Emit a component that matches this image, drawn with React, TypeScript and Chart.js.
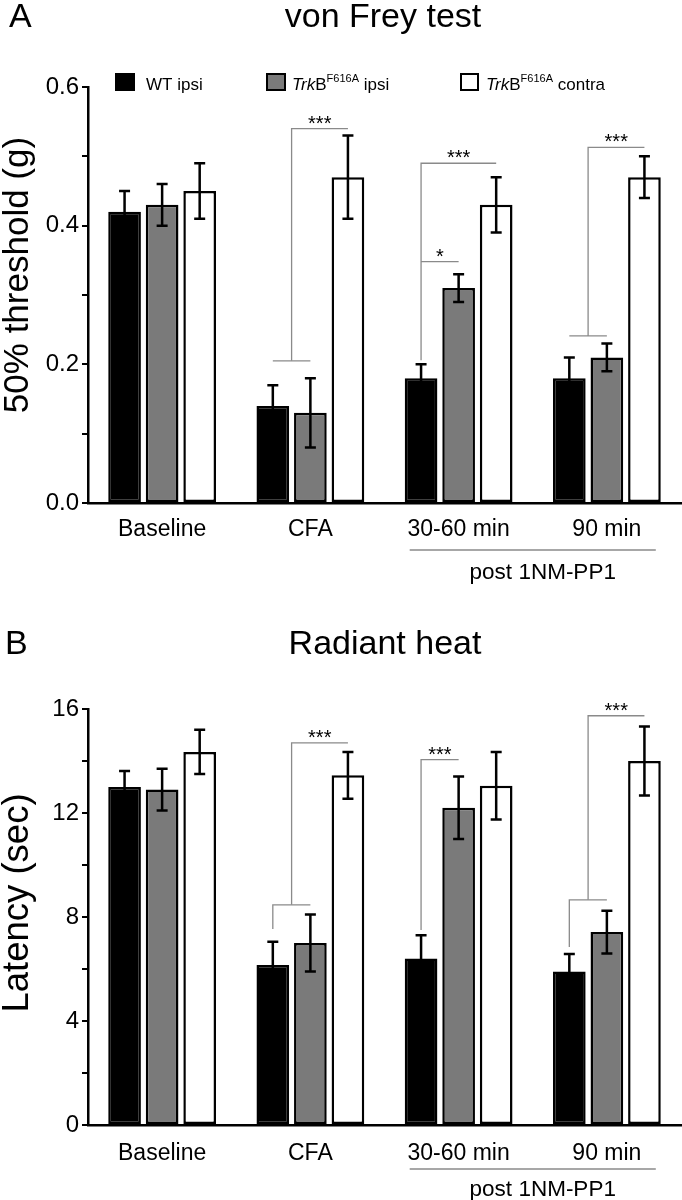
import React, { useEffect, useRef } from 'react';
import { Chart, registerables } from 'chart.js';

Chart.register(...registerables);

const FONT = '"Liberation Sans", Arial, Helvetica, sans-serif';

// ---------- data ----------
const categories = ['Baseline', 'CFA', '30-60 min', '90 min'];
const seriesNames = ['WT ipsi', 'TrkB F616A ipsi', 'TrkB F616A contra'];
const barColors = ['#000000', '#7a7a7a', '#ffffff'];

// Panel A: von Frey test, 50% threshold (g)
const vonFreyWT = [0.42, 0.14, 0.18, 0.18];
const vonFreyWTErr = [0.03, 0.03, 0.02, 0.03];
const vonFreyTrkIpsi = [0.43, 0.13, 0.31, 0.21];
const vonFreyTrkIpsiErr = [0.03, 0.05, 0.02, 0.02];
const vonFreyTrkContra = [0.45, 0.47, 0.43, 0.47];
const vonFreyTrkContraErr = [0.04, 0.06, 0.04, 0.03];
const vonFreyTickLabels = ['0.0', '0.2', '0.4', '0.6'];

// Panel B: Radiant heat, latency (sec)
const heatWT = [13.0, 6.15, 6.4, 5.9];
const heatWTErr = [0.62, 0.9, 0.9, 0.68];
const heatTrkIpsi = [12.9, 7.0, 12.2, 7.42];
const heatTrkIpsiErr = [0.8, 1.1, 1.2, 0.82];
const heatTrkContra = [14.35, 13.45, 13.05, 14.0];
const heatTrkContraErr = [0.85, 0.9, 1.3, 1.33];
const heatTickLabels = ['0', '4', '8', '12', '16'];

// significance brackets: points are [category, bar slot, value]
type P = [number, number, number];
type Bracket = { path: P[]; label?: string; at?: P };
const vonFreyBrackets: Bracket[] = [
  { path: [[1, 0, 0.205], [1, 1, 0.205]] },
  { path: [[1, 0.5, 0.205], [1, 0.5, 0.54], [1, 2, 0.54]], label: '***', at: [1, 1.25, 0.54] },
  { path: [[2, 0, 0.206], [2, 0, 0.49], [2, 2, 0.49]], label: '***', at: [2, 1, 0.49] },
  { path: [[2, 0, 0.348], [2, 1, 0.348]], label: '*', at: [2, 0.5, 0.348] },
  { path: [[3, 0, 0.241], [3, 1, 0.241]] },
  { path: [[3, 0.5, 0.241], [3, 0.5, 0.513], [3, 2, 0.513]], label: '***', at: [3, 1.25, 0.513] },
];
const heatBrackets: Bracket[] = [
  { path: [[1, 0, 7.54], [1, 0, 8.47], [1, 1, 8.47]] },
  { path: [[1, 0.5, 8.47], [1, 0.5, 14.7], [1, 2, 14.7]], label: '***', at: [1, 1.25, 14.7] },
  { path: [[2, 0, 7.5], [2, 0, 14.05], [2, 1, 14.05]], label: '***', at: [2, 0.5, 14.05] },
  { path: [[3, 0, 6.85], [3, 0, 8.66], [3, 1, 8.66]] },
  { path: [[3, 0.5, 8.66], [3, 0.5, 15.74], [3, 2, 15.74]], label: '***', at: [3, 1.25, 15.74] },
];

type PanelCfg = {
  letter: string;
  letterX: number;
  title: string;
  titleX: number;
  titleBaseline: number;
  yTitle: string;
  yTitleSize: number;
  yTitleY: number;
  tickLabels: string[];
  max: number;
  step: number;
  series: number[][];
  errors: number[][];
  brackets: Bracket[];
  legend: boolean;
  padTop: number;
  xHeight: number;
  xPad: number;
  postLine: number;
  postText: number;
};

function drawLegend(ctx: CanvasRenderingContext2D) {
  const y0 = 73;
  const boxes = [
    { x: 115, w: 20, textX: 146 },
    { x: 266, w: 20, textX: 292 },
    { x: 460, w: 19, textX: 486 },
  ];
  const base = 90;
  boxes.forEach((b, i) => {
    ctx.fillStyle = barColors[i];
    ctx.fillRect(b.x, y0, b.w, 18);
    ctx.strokeStyle = '#000';
    ctx.lineWidth = 2;
    ctx.strokeRect(b.x + 1, y0 + 1, b.w - 2, 16);
  });
  ctx.fillStyle = '#000';
  ctx.textAlign = 'left';
  ctx.textBaseline = 'alphabetic';
  ctx.font = `17px ${FONT}`;
  ctx.fillText(seriesNames[0], boxes[0].textX, base);
  const parts = (x: number, suffix: string) => {
    ctx.font = `italic 17px ${FONT}`;
    ctx.fillText('Trk', x, base);
    x += ctx.measureText('Trk').width;
    ctx.font = `17px ${FONT}`;
    ctx.fillText('B', x, base);
    x += ctx.measureText('B').width;
    ctx.font = `11px ${FONT}`;
    ctx.fillText('F616A', x, base - 8);
    x += ctx.measureText('F616A').width;
    ctx.font = `17px ${FONT}`;
    ctx.fillText(suffix, x, base);
  };
  parts(boxes[1].textX, ' ipsi');
  parts(boxes[2].textX, ' contra');
}

function makePanel(canvas: HTMLCanvasElement, cfg: PanelCfg) {
  const barX = (chart: any, cat: number, slot: number) => {
    const lo = Math.floor(slot);
    const hi = Math.ceil(slot);
    const xl = chart.getDatasetMeta(lo).data[cat].x;
    const xh = chart.getDatasetMeta(hi).data[cat].x;
    return xl + (xh - xl) * (slot - lo);
  };

  const overlay = {
    id: 'overlay',
    afterDatasetsDraw(chart: any) {
      const ctx = chart.ctx as CanvasRenderingContext2D;
      const ys = chart.scales.y;
      ctx.save();
      ctx.strokeStyle = '#000';
      ctx.lineWidth = 2.5;
      cfg.series.forEach((vals, d) => {
        const meta = chart.getDatasetMeta(d);
        vals.forEach((v, i) => {
          const e = cfg.errors[d][i];
          const x = meta.data[i].x;
          const yt = ys.getPixelForValue(v + e);
          const yb = ys.getPixelForValue(v - e);
          ctx.beginPath();
          ctx.moveTo(x, yt);
          ctx.lineTo(x, yb);
          ctx.moveTo(x - 5.5, yt);
          ctx.lineTo(x + 5.5, yt);
          ctx.moveTo(x - 5.5, yb);
          ctx.lineTo(x + 5.5, yb);
          ctx.stroke();
        });
      });
      ctx.restore();
    },
    afterDraw(chart: any) {
      const ctx = chart.ctx as CanvasRenderingContext2D;
      const ys = chart.scales.y;
      const xs = chart.scales.x;
      const area = chart.chartArea;
      ctx.save();
      // brackets
      ctx.strokeStyle = '#8a8a8a';
      ctx.lineWidth = 1.3;
      cfg.brackets.forEach((b) => {
        ctx.beginPath();
        b.path.forEach((p, k) => {
          const x = barX(chart, p[0], p[1]);
          const y = ys.getPixelForValue(p[2]);
          if (k === 0) ctx.moveTo(x, y);
          else ctx.lineTo(x, y);
        });
        ctx.stroke();
        if (b.label && b.at) {
          ctx.fillStyle = '#000';
          ctx.font = `20px ${FONT}`;
          ctx.textAlign = 'center';
          ctx.textBaseline = 'alphabetic';
          ctx.fillText(b.label, barX(chart, b.at[0], b.at[1]), ys.getPixelForValue(b.at[2]) + 1);
        }
      });
      // post 1NM-PP1 line and text
      const c2 = xs.getPixelForValue(2);
      const c3 = xs.getPixelForValue(3);
      const w = c3 - c2;
      ctx.strokeStyle = '#8a8a8a';
      ctx.lineWidth = 1.3;
      ctx.beginPath();
      ctx.moveTo(c2 - 0.33 * w, area.bottom + cfg.postLine);
      ctx.lineTo(c3 + 0.33 * w, area.bottom + cfg.postLine);
      ctx.stroke();
      ctx.fillStyle = '#000';
      ctx.font = `22.5px ${FONT}`;
      ctx.textAlign = 'center';
      ctx.textBaseline = 'alphabetic';
      ctx.fillText('post 1NM-PP1', (c2 + c3) / 2 + 10, area.bottom + cfg.postText);
      // panel letter and title
      ctx.font = `34px ${FONT}`;
      ctx.textAlign = 'left';
      ctx.fillText(cfg.letter, cfg.letterX, cfg.titleBaseline);
      ctx.textAlign = 'center';
      ctx.fillText(cfg.title, cfg.titleX, cfg.titleBaseline);
      // y axis title
      ctx.save();
      ctx.translate(18, cfg.yTitleY);
      ctx.rotate(-Math.PI / 2);
      ctx.font = `${cfg.yTitleSize}px ${FONT}`;
      ctx.textAlign = 'center';
      ctx.textBaseline = 'middle';
      ctx.fillText(cfg.yTitle, 0, 0);
      ctx.restore();
      if (cfg.legend) drawLegend(ctx);
      ctx.restore();
    },
  };

  return new Chart(canvas, {
    type: 'bar',
    data: {
      labels: categories,
      datasets: cfg.series.map((s, i) => ({
        label: seriesNames[i],
        data: s,
        backgroundColor: barColors[i],
        borderColor: '#000000',
        borderWidth: 2.5,
        borderSkipped: false,
        categoryPercentage: 0.76,
        barPercentage: 0.87,
      })),
    },
    options: {
      responsive: false,
      maintainAspectRatio: false,
      animation: false,
      devicePixelRatio: 1,
      layout: { padding: { top: cfg.padTop, right: 1, left: 0, bottom: 0 } },
      plugins: {
        legend: { display: false },
        title: { display: false },
        tooltip: { enabled: false },
      },
      scales: {
        x: {
          grid: { display: false, drawTicks: false },
          border: { display: true, color: '#000', width: 2.5 },
          ticks: {
            color: '#000',
            font: { family: FONT, size: 23 },
            padding: cfg.xPad,
            maxRotation: 0,
            autoSkip: false,
          },
          afterFit: (scale: any) => {
            scale.height = cfg.xHeight;
          },
        },
        y: {
          min: 0,
          max: cfg.max,
          grid: {
            display: true,
            drawOnChartArea: false,
            drawTicks: true,
            tickLength: 6,
            color: '#000',
            lineWidth: 2,
          },
          border: { display: true, color: '#000', width: 2.5 },
          ticks: {
            stepSize: cfg.step,
            autoSkip: false,
            color: '#000',
            padding: 3,
            font: { family: FONT, size: 24 },
            callback: (_v: any, index: number) =>
              index % 2 === 0 ? cfg.tickLabels[index / 2] ?? '' : '',
          },
          afterFit: (scale: any) => {
            scale.width = 88;
          },
        },
      },
    },
    plugins: [overlay],
  } as any);
}

export default function App() {
  const refA = useRef<HTMLCanvasElement | null>(null);
  const refB = useRef<HTMLCanvasElement | null>(null);

  useEffect(() => {
    const a = makePanel(refA.current!, {
      letter: 'A',
      letterX: 9,
      title: 'von Frey test',
      titleX: 383,
      titleBaseline: 27,
      yTitle: '50% threshold (g)',
      yTitleSize: 35,
      yTitleY: 275,
      tickLabels: vonFreyTickLabels,
      max: 0.6,
      step: 0.1,
      series: [vonFreyWT, vonFreyTrkIpsi, vonFreyTrkContra],
      errors: [vonFreyWTErr, vonFreyTrkIpsiErr, vonFreyTrkContraErr],
      brackets: vonFreyBrackets,
      legend: true,
      padTop: 87,
      xHeight: 87,
      xPad: 13,
      postLine: 47,
      postText: 76,
    });
    const b = makePanel(refB.current!, {
      letter: 'B',
      letterX: 5,
      title: 'Radiant heat',
      titleX: 385,
      titleBaseline: 64,
      yTitle: 'Latency (sec)',
      yTitleSize: 36.5,
      yTitleY: 313,
      tickLabels: heatTickLabels,
      max: 16,
      step: 2,
      series: [heatWT, heatTrkIpsi, heatTrkContra],
      errors: [heatWTErr, heatTrkIpsiErr, heatTrkContraErr],
      brackets: heatBrackets,
      legend: false,
      padTop: 119,
      xHeight: 75,
      xPad: 15,
      postLine: 44,
      postText: 71,
    });
    return () => {
      a.destroy();
      b.destroy();
    };
  }, []);

  return (
    <div style={{ position: 'absolute', left: 0, top: 0, width: 682, height: 1200, background: '#fff' }}>
      <canvas ref={refA} width={682} height={590} style={{ display: 'block', width: 682, height: 590 }} />
      <canvas ref={refB} width={682} height={610} style={{ display: 'block', width: 682, height: 610 }} />
    </div>
  );
}
